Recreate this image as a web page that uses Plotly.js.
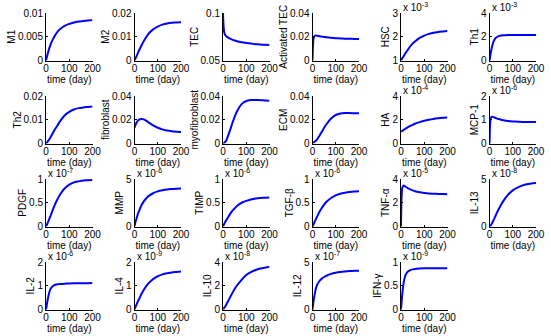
<!DOCTYPE html>
<html>
<head>
<meta charset="utf-8">
<script src="https://cdn.plot.ly/plotly-3.0.1.min.js"></script>
<style>html,body{margin:0;padding:0;background:#fff;}#chart{width:551px;height:336px;}</style>
</head>
<body>
<div id="chart"></div>
<script>
// time points (day)
const t = [0, 2, 5, 10, 15, 20, 30, 40, 50, 60, 80, 100, 120, 140, 160, 180, 200];

// series values (real units)
const M1 = [0, 0.0004, 0.0010, 0.0019, 0.0027, 0.0034, 0.0045, 0.0054, 0.0061, 0.0066, 0.0073, 0.0077, 0.0080, 0.0082, 0.0083, 0.0084, 0.0085];
const M2 = [0, 0.0004, 0.0010, 0.0021, 0.0032, 0.0043, 0.0063, 0.0082, 0.0098, 0.0112, 0.0131, 0.0143, 0.0151, 0.0156, 0.0159, 0.0160, 0.0161];
const TEC = [0.1, 0.088, 0.080, 0.0765, 0.0753, 0.0745, 0.0730, 0.0720, 0.0710, 0.0703, 0.0693, 0.0685, 0.0678, 0.0672, 0.0668, 0.0665, 0.0663];
const ActTEC = [0, 0.012, 0.019, 0.0208, 0.0210, 0.0209, 0.0205, 0.0201, 0.0198, 0.0195, 0.0191, 0.0188, 0.0186, 0.0184, 0.0183, 0.0182, 0.0181];
const HSC = [1.0e-3, 1.03e-3, 1.08e-3, 1.16e-3, 1.24e-3, 1.32e-3, 1.46e-3, 1.60e-3, 1.71e-3, 1.80e-3, 1.95e-3, 2.05e-3, 2.12e-3, 2.17e-3, 2.20e-3, 2.22e-3, 2.24e-3];
const Th1 = [0, 0.25e-3, 0.6e-3, 1.1e-3, 1.45e-3, 1.7e-3, 1.95e-3, 2.05e-3, 2.1e-3, 2.12e-3, 2.14e-3, 2.15e-3, 2.15e-3, 2.15e-3, 2.15e-3, 2.15e-3, 2.15e-3];
const Th2 = [0, 0.0002, 0.0005, 0.0012, 0.0019, 0.0027, 0.0045, 0.0062, 0.0077, 0.0093, 0.0118, 0.0133, 0.0143, 0.0149, 0.0152, 0.0154, 0.0156];
const fibroblast = [0.013, 0.0145, 0.016, 0.018, 0.0193, 0.0201, 0.0206, 0.0203, 0.0192, 0.0178, 0.0152, 0.0133, 0.0119, 0.0109, 0.0103, 0.0099, 0.0096];
const myofibroblast = [0, 0.0001, 0.0004, 0.0015, 0.003, 0.0055, 0.011, 0.017, 0.0225, 0.027, 0.0332, 0.0358, 0.0366, 0.0367, 0.0365, 0.0363, 0.0361];
const ECM = [0.0005, 0.0006, 0.0009, 0.0016, 0.0025, 0.0035, 0.0065, 0.0098, 0.0132, 0.0162, 0.0210, 0.0240, 0.0252, 0.0256, 0.0256, 0.0255, 0.0254];
const HA = [1.0e-4, 1.02e-4, 1.06e-4, 1.12e-4, 1.19e-4, 1.25e-4, 1.37e-4, 1.48e-4, 1.57e-4, 1.66e-4, 1.80e-4, 1.91e-4, 2.00e-4, 2.07e-4, 2.12e-4, 2.16e-4, 2.19e-4];
const MCP1 = [0, 0.7e-6, 1.05e-6, 1.13e-6, 1.12e-6, 1.1e-6, 1.06e-6, 1.03e-6, 1.0e-6, 0.98e-6, 0.95e-6, 0.93e-6, 0.92e-6, 0.91e-6, 0.905e-6, 0.90e-6, 0.90e-6];
const PDGF = [0, 0.02e-7, 0.05e-7, 0.11e-7, 0.17e-7, 0.23e-7, 0.36e-7, 0.48e-7, 0.58e-7, 0.67e-7, 0.80e-7, 0.88e-7, 0.93e-7, 0.95e-7, 0.97e-7, 0.975e-7, 0.98e-7];
const MMP = [0, 0.25e-6, 0.55e-6, 0.95e-6, 1.35e-6, 1.65e-6, 2.25e-6, 2.65e-6, 2.95e-6, 3.2e-6, 3.5e-6, 3.7e-6, 3.82e-6, 3.9e-6, 3.95e-6, 3.98e-6, 4.0e-6];
const TIMP = [0, 0.02e-6, 0.05e-6, 0.10e-6, 0.14e-6, 0.18e-6, 0.26e-6, 0.33e-6, 0.38e-6, 0.43e-6, 0.50e-6, 0.54e-6, 0.57e-6, 0.59e-6, 0.60e-6, 0.605e-6, 0.61e-6];
const TGFb = [0, 0.02e-6, 0.05e-6, 0.11e-6, 0.16e-6, 0.21e-6, 0.31e-6, 0.39e-6, 0.46e-6, 0.52e-6, 0.60e-6, 0.655e-6, 0.69e-6, 0.71e-6, 0.725e-6, 0.735e-6, 0.74e-6];
const TNFa = [0, 2.2e-5, 3.2e-5, 3.45e-5, 3.42e-5, 3.35e-5, 3.22e-5, 3.12e-5, 3.04e-5, 2.97e-5, 2.88e-5, 2.82e-5, 2.78e-5, 2.76e-5, 2.74e-5, 2.73e-5, 2.72e-5];
const IL13 = [0, 0.03e-8, 0.1e-8, 0.3e-8, 0.55e-8, 0.8e-8, 1.35e-8, 1.85e-8, 2.3e-8, 2.7e-8, 3.35e-8, 3.8e-8, 4.1e-8, 4.3e-8, 4.45e-8, 4.53e-8, 4.58e-8];
const IL2 = [0, 0.1e-6, 0.3e-6, 0.55e-6, 0.75e-6, 0.87e-6, 0.99e-6, 1.04e-6, 1.06e-6, 1.07e-6, 1.085e-6, 1.095e-6, 1.10e-6, 1.105e-6, 1.11e-6, 1.11e-6, 1.115e-6];
const IL4 = [0, 0.05e-9, 0.12e-9, 0.24e-9, 0.35e-9, 0.45e-9, 0.65e-9, 0.83e-9, 0.98e-9, 1.1e-9, 1.28e-9, 1.4e-9, 1.48e-9, 1.53e-9, 1.56e-9, 1.58e-9, 1.6e-9];
const IL10 = [0, 0.04e-8, 0.12e-8, 0.28e-8, 0.45e-8, 0.63e-8, 1.0e-8, 1.38e-8, 1.72e-8, 2.02e-8, 2.5e-8, 2.9e-8, 3.15e-8, 3.33e-8, 3.45e-8, 3.52e-8, 3.57e-8];
const IL12 = [0, 0.4e-7, 0.95e-7, 1.7e-7, 2.25e-7, 2.6e-7, 3.0e-7, 3.25e-7, 3.42e-7, 3.55e-7, 3.75e-7, 3.87e-7, 3.95e-7, 4.0e-7, 4.04e-7, 4.07e-7, 4.09e-7];
const IFNg = [0, 0.12e-9, 0.3e-9, 0.52e-9, 0.65e-9, 0.73e-9, 0.8e-9, 0.83e-9, 0.845e-9, 0.855e-9, 0.865e-9, 0.87e-9, 0.87e-9, 0.87e-9, 0.87e-9, 0.87e-9, 0.87e-9];

// panel labels, in grid order
const labels = ['M1', 'M2', 'TEC', 'Activated TEC', 'HSC', 'Th1',
  'Th2', 'fibroblast', 'myofibroblast', 'ECM', 'HA', 'MCP-1',
  'PDGF', 'MMP', 'TIMP', 'TGF-β', 'TNF-α', 'IL-13',
  'IL-2', 'IL-4', 'IL-10', 'IL-12', 'IFN-γ'];
const series = [M1, M2, TEC, ActTEC, HSC, Th1, Th2, fibroblast, myofibroblast, ECM, HA, MCP1,
  PDGF, MMP, TIMP, TGFb, TNFa, IL13, IL2, IL4, IL10, IL12, IFNg];

// y tick values (real units) and their displayed text
const yTickVals = [
  [0, 0.005, 0.01], [0, 0.01, 0.02], [0.05, 0.1], [0, 0.02, 0.04], [1e-3, 2e-3, 3e-3], [0, 2e-3, 4e-3],
  [0, 0.01, 0.02], [0, 0.02, 0.04], [0, 0.02, 0.04], [0, 0.02, 0.04], [0, 2e-4, 4e-4], [0, 1e-6, 2e-6],
  [0, 0.5e-7, 1e-7], [0, 5e-6], [0, 0.5e-6, 1e-6], [0, 0.5e-6, 1e-6], [0, 2e-5, 4e-5], [0, 5e-8],
  [0, 1e-6, 2e-6], [0, 1e-9, 2e-9], [0, 2e-8, 4e-8], [0, 5e-7], [0, 0.5e-9, 1e-9]];
const yTickText = [
  ['0', '0.005', '0.01'], ['0', '0.01', '0.02'], ['0.05', '0.1'], ['0', '0.02', '0.04'], ['1', '2', '3'], ['0', '2', '4'],
  ['0', '0.01', '0.02'], ['0', '0.02', '0.04'], ['0', '0.02', '0.04'], ['0', '0.02', '0.04'], ['0', '2', '4'], ['0', '1', '2'],
  ['0', '0.5', '1'], ['0', '5'], ['0', '0.5', '1'], ['0', '0.5', '1'], ['0', '2', '4'], ['0', '5'],
  ['0', '1', '2'], ['0', '1', '2'], ['0', '2', '4'], ['0', '5'], ['0', '0.5', '1']];
const exponents = [null, null, null, null, -3, -3, null, null, null, null, -4, -6,
  -7, -6, -6, -6, -5, -8, -6, -9, -8, -7, -9];
const xTickVals = [0, 100, 200];
const xTitle = 'time (day)';

// layout geometry (pixels)
const W = 551, H = 336;
const colLeft = [46, 134.5, 223, 312.5, 401, 489.5];
const rowTop = [13, 96, 179, 262];
const pw = 46.5, ph = 47.5;

const FONT = 'Liberation Sans, Arial, Helvetica, sans-serif';
const data = [];
const layout = {
  width: W, height: H,
  margin: {l: 0, r: 0, t: 0, b: 0},
  paper_bgcolor: '#ffffff', plot_bgcolor: 'rgba(0,0,0,0)',
  showlegend: false,
  font: {family: FONT, size: 10, color: '#000'},
  annotations: []
};

series.forEach((ys, i) => {
  const r = Math.floor(i / 6), c = i % 6;
  const n = i === 0 ? '' : String(i + 1);
  const x0 = colLeft[c] / W, x1 = (colLeft[c] + pw) / W;
  const y1 = 1 - rowTop[r] / H, y0 = 1 - (rowTop[r] + ph) / H;
  const tv = yTickVals[i];
  data.push({
    x: t, y: ys, type: 'scatter', mode: 'lines',
    line: {color: '#0000ff', width: 2, shape: 'spline', smoothing: 0.6},
    xaxis: 'x' + n, yaxis: 'y' + n, hoverinfo: 'skip'
  });
  layout['xaxis' + n] = {
    domain: [x0, x1], anchor: 'y' + n, range: [0, 200],
    tickvals: xTickVals, ticktext: ['0', '100', '200'],
    ticks: 'inside', ticklen: 2, tickcolor: '#000',
    ticklabelstandoff: -2,
    showline: true, linecolor: '#000', linewidth: 1,
    showgrid: false, zeroline: false, fixedrange: true,
    tickfont: {family: FONT, size: 10, color: '#000'},
    title: {text: xTitle, font: {family: FONT, size: 10, color: '#000'}, standoff: 0}
  };
  layout['yaxis' + n] = {
    domain: [y0, y1], anchor: 'x' + n, range: [tv[0], tv[tv.length - 1]],
    tickvals: tv, ticktext: yTickText[i],
    ticks: 'inside', ticklen: 2, tickcolor: '#000',
    showline: true, linecolor: '#000', linewidth: 1,
    showgrid: false, zeroline: false, fixedrange: true,
    tickfont: {family: FONT, size: 10, color: '#000'},
    title: {text: labels[i], font: {family: FONT, size: 10, color: '#000'}, standoff: 0}
  };
  if (exponents[i] !== null) {
    layout.annotations.push({
      xref: 'paper', yref: 'paper', x: colLeft[c] / W, y: y1,
      xanchor: 'left', yanchor: 'bottom', showarrow: false,
      text: 'x 10<sup>' + exponents[i] + '</sup>',
      font: {family: FONT, size: 10, color: '#000'}, xshift: 0, yshift: -2
    });
  }
});

Plotly.newPlot('chart', data, layout, {staticPlot: true, displayModeBar: false});
</script>
</body>
</html>
